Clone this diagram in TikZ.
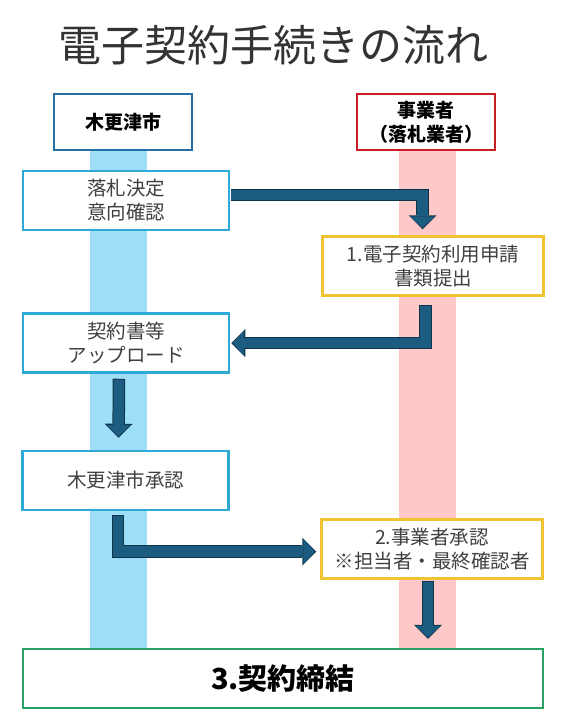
\documentclass[tikz,border=0pt]{standalone}
\usepackage{fontspec}
\setmainfont{Noto Sans CJK JP}
\usetikzlibrary{arrows.meta}

\definecolor{cityhead}{RGB}{35,110,165}
\definecolor{citystep}{RGB}{45,170,215}
\definecolor{citylane}{RGB}{158,222,246}
\definecolor{bizhead}{RGB}{200,30,35}
\definecolor{bizstep}{RGB}{240,195,50}
\definecolor{bizlane}{RGB}{255,200,200}
\definecolor{donegreen}{RGB}{40,160,100}
\definecolor{flowfill}{RGB}{28,92,128}
\definecolor{flowedge}{RGB}{14,52,75}
\definecolor{steptext}{RGB}{64,64,64}

\tikzset{
  headbox/.style={line width=2.5pt, fill=white, minimum width=138pt, minimum height=56pt,
    inner sep=0pt, align=center, font=\bfseries\fontsize{19}{24}\selectfont},
  citystepbox/.style={draw=citystep, line width=2.5pt, fill=white, minimum width=206pt,
    minimum height=59pt, inner sep=0pt, align=center, text=steptext,
    font=\fontsize{19.5}{24}\selectfont},
  bizstepbox/.style={citystepbox, draw=bizstep, minimum width=221pt},
  flowback/.style={line width=12.5pt, draw=flowedge,
    -{Triangle[width=28pt,length=14pt,line width=0pt]}},
  flowfront/.style={line width=10.5pt, draw=flowfill,
    -{Triangle[width=25pt,length=11.5pt,line width=0pt]}}
}

\begin{document}
\begin{tikzpicture}[x=1pt,y=-1pt]
\useasboundingbox (0,0) rectangle (560,723);
% lanes
\fill[citylane] (90,150) rectangle (147,649);
\fill[bizlane] (399,150) rectangle (456,649);

\node[font=\fontsize{43}{50}\selectfont, text=black!80] (title) at (273,45) {電子契約手続きの流れ};

% headers
\node[headbox, draw=cityhead] (cityhd) at (123,122) {木更津市};
\node[headbox, draw=bizhead] (bizhd) at (426,122) {事業者\\（落札業者）};

% steps
\node[citystepbox] (decide) at (126,200.5) {落札決定\\意向確認};
\node[bizstepbox] (apply) at (433,266) {1.電子契約利用申請\\書類提出};
\node[citystepbox] (upload) at (126,343) {契約書等\\アップロード};
\node[citystepbox] (cityok) at (125.5,480.5) {木更津市承認};
\node[bizstepbox] (bizok) at (432,549) {2.事業者承認\\※担当者・最終確認者};
\node[draw=donegreen, line width=2.5pt, fill=white, minimum width=520pt, minimum height=59pt,
  font=\bfseries\fontsize{29}{34}\selectfont] (sign) at (283,678.5) {3.契約締結};

% arrows
\draw[flowback, shorten <=1.2pt, shorten >=6pt] ([yshift=5.5pt]decide.east) -| ([xshift=-10.5pt]apply.north);
\draw[flowfront, shorten <=1.2pt, shorten >=7.4pt] ([yshift=5.5pt]decide.east) -| ([xshift=-10.5pt]apply.north);

\draw[flowback, shorten <=8pt, shorten >=1pt] ([xshift=-7.5pt]apply.south) |- (upload.east);
\draw[flowfront, shorten <=9pt, shorten >=2.4pt] ([xshift=-7.5pt]apply.south) |- (upload.east);

\draw[flowback, shorten <=5pt, shorten >=12pt] ([xshift=-7pt]upload.south) -- ([xshift=-7pt]cityok.north);
\draw[flowfront, shorten <=6pt, shorten >=13.4pt] ([xshift=-7pt]upload.south) -- ([xshift=-7pt]cityok.north);

\draw[flowback, shorten <=4pt, shorten >=4pt] ([xshift=-7.5pt]cityok.south) |- ([yshift=-2.5pt]bizok.west);
\draw[flowfront, shorten <=5pt, shorten >=5.4pt] ([xshift=-7.5pt]cityok.south) |- ([yshift=-2.5pt]bizok.west);

\draw[flowback, shorten <=1.5pt, shorten >=9pt] ([xshift=-4pt]bizok.south) -- ([xshift=-4pt]bizok.south |- sign.north);
\draw[flowfront, shorten <=2.5pt, shorten >=10.4pt] ([xshift=-4pt]bizok.south) -- ([xshift=-4pt]bizok.south |- sign.north);
\end{tikzpicture}
\end{document}
